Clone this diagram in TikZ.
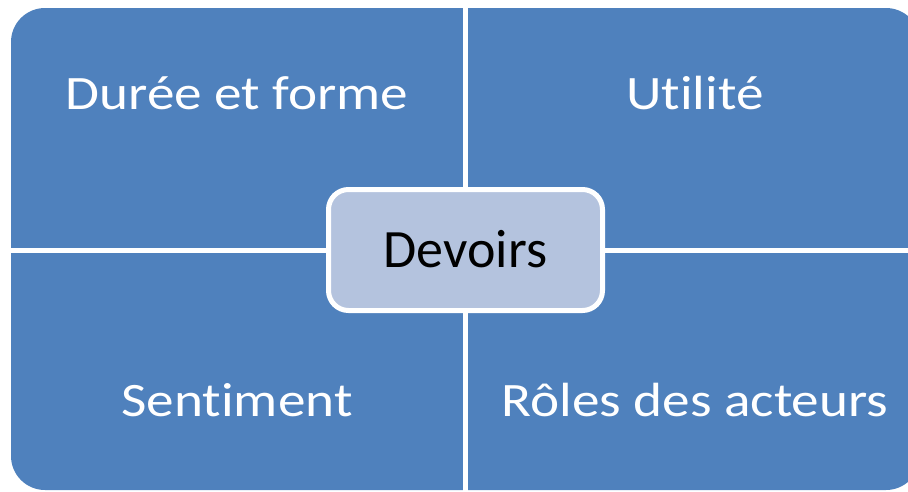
\documentclass[tikz,border=0pt]{standalone}
\usepackage{fontspec}
\setmainfont{Carlito}[Ligatures=NoCommon]
\definecolor{quadblue}{HTML}{4F81BD}
\definecolor{hubfill}{HTML}{B4C3DE}
\begin{document}
\begin{tikzpicture}[x=1pt,y=-1pt,
  quadtext/.style={anchor=base,text=white,inner sep=0pt,
    font=\fontsize{48}{58}\selectfont},
  hub/.style={draw=white,line width=5pt,fill=hubfill,rounded corners=20pt,
    minimum width=274pt,minimum height=121pt,inner sep=0pt,
    text height=35pt,text depth=0pt,
    font=\fontsize{54}{64}\selectfont},
  divider/.style={white,line width=5pt}]
  \useasboundingbox (0,0) rectangle (908,491);
  \clip (0,0) rectangle (908,491);
  % blue matrix background
  \fill[quadblue,rounded corners=34pt] (11,8) rectangle (920,490);
  % quadrant dividers
  \coordinate (vtop) at (465.5,0);
  \coordinate (vbot) at (465.5,491);
  \coordinate (hleft) at (0,250.5);
  \coordinate (hright) at (908,250.5);
  \draw[divider] (vtop) -- (vbot);
  \draw[divider] (hleft) -- (hright);
  % quadrant labels
  \node[quadtext] (tl) at (237,109) {\scalebox{1.15}[1]{Durée et forme}};
  \node[quadtext] (tr) at (695,109) {\scalebox{1.15}[1]{Utilité}};
  \node[quadtext] (bl) at (237,416) {\scalebox{1.15}[1]{Sentiment}};
  \node[quadtext] (br) at (695,416) {\scalebox{1.15}[1]{Rôles des acteurs}};
  % central topic
  \node[hub] (center) at (465.5,250) {Devoirs};
\end{tikzpicture}
\end{document}
